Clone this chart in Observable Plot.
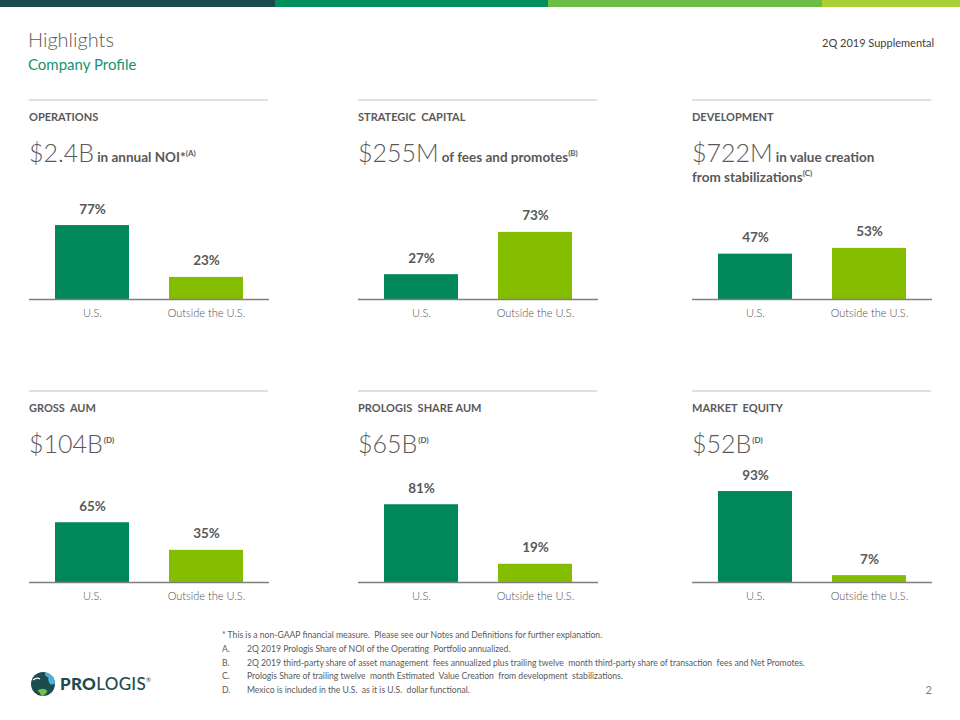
<!DOCTYPE html>
<html><head><meta charset="utf-8">
<script src="https://cdn.jsdelivr.net/npm/d3@7"></script>
<script src="https://cdn.jsdelivr.net/npm/@observablehq/plot@0.6"></script>
<style>
html,body{margin:0;padding:0;background:#fff;}
#page{position:relative;width:960px;height:720px;overflow:hidden;font-family:Lato,"Open Sans",sans-serif;}
#deco{position:absolute;left:0;top:0;}
</style></head><body><div id="page"><svg id="deco" width="960" height="720"></svg></div>
<script>
// ---- data ----
const categories = ["U.S.", "Outside the U.S."];
const panelTitles = ["OPERATIONS", "STRATEGIC  CAPITAL", "DEVELOPMENT", "GROSS  AUM", "PROLOGIS  SHARE AUM", "MARKET  EQUITY"];
const headlineValues = ["$2.4B", "$255M", "$722M", "$104B", "$65B", "$52B"];
const headlineTexts = [["in annual NOI*"], ["of fees and promotes"], ["in value creation", "from stabilizations"], [], [], []];
const headlineNotes = ["(A)", "(B)", "(C)", "(D)", "(D)", "(D)"];
const usShare = [77, 27, 47, 65, 81, 93];
const outsideShare = [23, 73, 53, 35, 19, 7];
const footnoteMarks = ["", "A.", "B.", "C.", "D."];
const footnoteTexts = [
  "* This is a non-GAAP financial measure.  Please see our Notes and Definitions for further explanation.",
  "2Q 2019 Prologis Share of NOI of the Operating  Portfolio annualized.",
  "2Q 2019 third-party share of asset management  fees annualized plus trailing twelve  month third-party share of transaction  fees and Net Promotes.",
  "Prologis Share of trailing twelve  month Estimated  Value Creation  from development  stabilizations.",
  "Mexico is included in the U.S.  as it is U.S.  dollar functional."
];

// ---- layout / style ----
const colX = [29, 358, 692];
const rowLineY = [100, 391];
const rowBase = [299, 582];
const yMax = [125, 130.5, 124.4, 130.5, 125, 122.7];
const plotH = 120;
const grey = "#595959";
const barColors = ["#00885a", "#84bc00"];

const deco = d3.select("#deco");
// top band
[["#1c4d4e", 0, 275], ["#00905e", 275, 548], ["#6dbd45", 548, 822], ["#a9d135", 822, 960]].forEach(([c, a, b]) =>
  deco.append("rect").attr("x", a).attr("y", 0).attr("width", b - a).attr("height", 7).attr("fill", c));

deco.append("text").attr("x", 28).attr("y", 47).attr("font-size", 20).attr("font-weight", 300).attr("fill", grey).text("Highlights");
deco.append("text").attr("x", 28).attr("y", 70).attr("font-size", 15).attr("fill", "#17936e").text("Company Profile");
deco.append("text").attr("x", 934).attr("y", 47).attr("text-anchor", "end").attr("font-size", 11).attr("fill", "#404040").text("2Q 2019 Supplemental");

for (let i = 0; i < 6; i++) {
  const row = Math.floor(i / 3), col = i % 3;
  const x0 = colX[col], ly = rowLineY[row];
  deco.append("line").attr("x1", x0).attr("x2", x0 + 239).attr("y1", ly).attr("y2", ly).attr("stroke", "#bfbfbf").attr("stroke-width", 1);
  deco.append("text").attr("x", x0).attr("y", ly + 21).attr("font-size", 11).attr("font-weight", 700).attr("fill", grey)
    .style("white-space", "pre").text(panelTitles[i]);
  const t = deco.append("text").attr("x", x0).attr("y", ly + 62).attr("fill", grey);
  t.append("tspan").attr("font-size", 25).attr("font-weight", 300).text(headlineValues[i]);
  const extra = headlineTexts[i];
  if (extra.length === 0) {
    t.append("tspan").attr("font-size", 8).attr("font-weight", 700).attr("dx", 1).attr("dy", -10).text(headlineNotes[i]);
  } else if (extra.length === 1) {
    t.append("tspan").attr("font-size", 13.5).attr("font-weight", 700).attr("dx", 3).text(extra[0]);
    t.append("tspan").attr("font-size", 8).attr("font-weight", 700).attr("dy", -6).text(headlineNotes[i]);
  } else {
    t.append("tspan").attr("font-size", 13.5).attr("font-weight", 700).attr("dx", 3).text(extra[0]);
    const t2 = deco.append("text").attr("x", x0).attr("y", ly + 82).attr("fill", grey).attr("font-weight", 700);
    t2.append("tspan").attr("font-size", 13.5).text(extra[1]);
    t2.append("tspan").attr("font-size", 8).attr("dy", -6).text(headlineNotes[i]);
  }
}

// footnotes
const fnY = [638, 652, 665.5, 679, 692.5];
footnoteTexts.forEach((s, k) => {
  if (footnoteMarks[k]) deco.append("text").attr("x", 222).attr("y", fnY[k]).attr("font-size", 8.6).attr("fill", grey).text(footnoteMarks[k]);
  deco.append("text").attr("x", k === 0 ? 222 : 247).attr("y", fnY[k]).attr("font-size", 8.6).attr("fill", grey)
    .style("white-space", "pre").text(s);
});

// logo
const g = deco.append("g");
g.append("circle").attr("cx", 43).attr("cy", 684).attr("r", 12).attr("fill", "#1c4d4e");
g.append("path").attr("d", "M45 672.2 A12 12 0 0 1 55 684 L50.5 684.5 Q47.5 681 48.5 677.5 Q44.5 676.5 45 672.2 Z").attr("fill", "#4cb2e2");
g.append("path").attr("d", "M37.5 690.5 Q43.5 687 47.5 691 Q45.5 695 42 696.5 Q40.5 693 37.5 690.5 Z").attr("fill", "#74bf44");
g.append("path").attr("d", "M33 680 Q37 677 40 679").attr("stroke", "#fff").attr("stroke-width", 1.2).attr("fill", "none");
const lt = deco.append("text").attr("x", 60).attr("y", 690).attr("font-size", 17).attr("fill", "#1c4d4e").attr("letter-spacing", 0.3);
lt.append("tspan").attr("font-weight", 900).text("PRO");
lt.append("tspan").attr("font-weight", 500).text("LOGIS");
lt.append("tspan").attr("font-size", 6).attr("dy", -8).text("®");
deco.append("text").attr("x", 932).attr("y", 694).attr("text-anchor", "end").attr("font-size", 11).attr("fill", "#7f7f7f").text("2");

// ---- charts ----
const page = document.getElementById("page");
for (let i = 0; i < 6; i++) {
  const row = Math.floor(i / 3), col = i % 3;
  const data = categories.map((c, j) => ({cat: c, value: j === 0 ? usShare[i] : outsideShare[i]}));
  const chart = Plot.plot({
    width: 240, height: plotH + 26,
    marginTop: 0, marginBottom: 26, marginLeft: 0, marginRight: 0,
    style: {background: "transparent", fontFamily: "Lato, sans-serif", fontSize: "11px", color: "#505050", overflow: "visible"},
    x: {domain: categories, paddingInner: 0.354, paddingOuter: 0.222, label: null},
    y: {domain: [0, yMax[i]], axis: null},
    color: {domain: categories, range: barColors},
    marks: [
      Plot.barY(data, {x: "cat", y: "value", fill: "cat"}),
      Plot.ruleY([0], {stroke: "#7f7f7f", strokeWidth: 1.3}),
      Plot.text(data, {x: "cat", y: "value", text: d => d.value + "%", lineAnchor: "bottom", dy: -12, fontSize: 13.5, fontWeight: "bold", fill: grey}),
      Plot.axisX({tickSize: 0, tickPadding: 10, label: null, fontSize: 11, fontWeight: 300})
    ]
  });
  chart.style.position = "absolute";
  chart.style.left = colX[col] + "px";
  chart.style.top = (rowBase[row] - plotH) + "px";
  page.appendChild(chart);
}
</script></body></html>
